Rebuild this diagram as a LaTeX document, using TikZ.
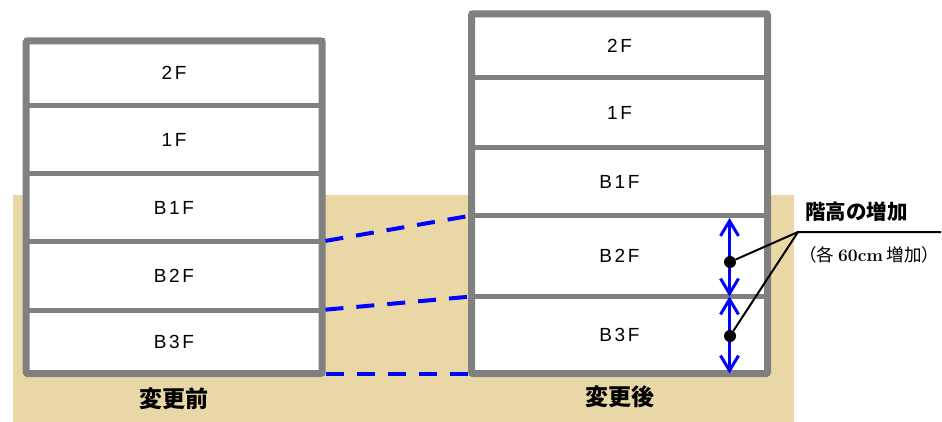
\documentclass[tikz,border=0pt]{standalone}
\usepackage{fontspec}
\newfontfamily\flr[LetterSpace=14]{Liberation Sans}
\newfontfamily\cjk{Noto Sans CJK JP}
\usetikzlibrary{arrows.meta,positioning}
\definecolor{wallgray}{RGB}{128,128,128}
\definecolor{soil}{RGB}{234,215,166}
\definecolor{lineblue}{RGB}{0,0,255}

\begin{document}
\begin{tikzpicture}[x=1pt,y=-1pt,
  floor/.style={draw=wallgray,line width=5pt,fill=white,inner sep=0pt,outer sep=0pt,
    minimum width=296pt,font=\flr\fontsize{19}{22}\selectfont},
  frame/.style={draw=wallgray,line width=7pt,rounded corners=1.5pt},
  link/.style={draw=lineblue,line width=4pt,dash pattern=on 18pt off 13pt,
    shorten <=3.5pt,shorten >=3.5pt},
  rise/.style={draw=lineblue,line width=3pt,
    {Straight Barb[length=15pt,width=18pt]}-{Straight Barb[length=15pt,width=18pt]}},
  dot/.style={circle,fill=black,inner sep=0pt,minimum size=12pt},
  leader/.style={draw=black,line width=2pt},
  caption/.style={inner sep=0pt,font=\cjk\bfseries\fontsize{23}{26}\selectfont}]
  \useasboundingbox (0,0) rectangle (942,422);

  % ground
  \fill[soil] (13,195) rectangle (794,422);

  % before
  \node[floor,minimum height=64.5pt] (L2F) at (174,73.25) {2F};
  \node[floor,minimum height=68.5pt,below=0pt of L2F]  (L1F)  {1F};
  \node[floor,minimum height=67.5pt,below=0pt of L1F]  (LB1F) {B1F};
  \node[floor,minimum height=68.5pt,below=0pt of LB1F] (LB2F) {B2F};
  \node[floor,minimum height=63.5pt,below=0pt of LB2F] (LB3F) {B3F};
  \draw[frame] (L2F.north west) rectangle (LB3F.south east);

  % after
  \node[floor,minimum height=64pt] (R2F) at (619.5,46) {2F};
  \node[floor,minimum height=69.5pt,below=0pt of R2F]  (R1F)  {1F};
  \node[floor,minimum height=68pt,below=0pt of R1F]    (RB1F) {B1F};
  \node[floor,minimum height=81pt,below=0pt of RB1F]   (RB2F) {B2F};
  \node[floor,minimum height=77pt,below=0pt of RB2F]   (RB3F) {B3F};
  \draw[frame] (R2F.north west) rectangle (RB3F.south east);

  \node[caption,below=14pt of LB3F] (before) {変更前};
  \node[caption,below=12pt of RB3F] (after)  {変更後};

  % shifted levels
  \draw[link] (LB1F.south east) -- (RB1F.south west);
  \draw[link] (LB2F.south east) -- (RB2F.south west);
  \draw[link] (LB3F.south east) -- (RB3F.south west);

  % storey height
  \draw[rise,shorten <=2.5pt] ([xshift=-38pt]RB2F.north east) -- ([xshift=-38pt]RB2F.south east);
  \draw[rise] ([xshift=-38pt]RB3F.north east) -- ([xshift=-38pt]RB3F.south east);
  \node[dot] (k1) at (730,262) {};
  \node[dot] (k2) at (730,336) {};
  \coordinate (hub)  at (798,232);
  \coordinate (tail) at (941,232);
  \draw[leader] (k1) -- (hub) -- (tail);
  \draw[leader] (k2) -- (hub);

  \node[anchor=west,inner sep=0pt,font=\cjk\bfseries\fontsize{20.5}{24}\selectfont]
    (title) at (805,212) {階高の増加};
  \node[anchor=west,inner sep=0pt,font=\cjk\fontsize{17.5}{20}\selectfont]
    (note) at (799,255) {（各 {\rmfamily\bfseries 60cm} 増加）};
\end{tikzpicture}
\end{document}
